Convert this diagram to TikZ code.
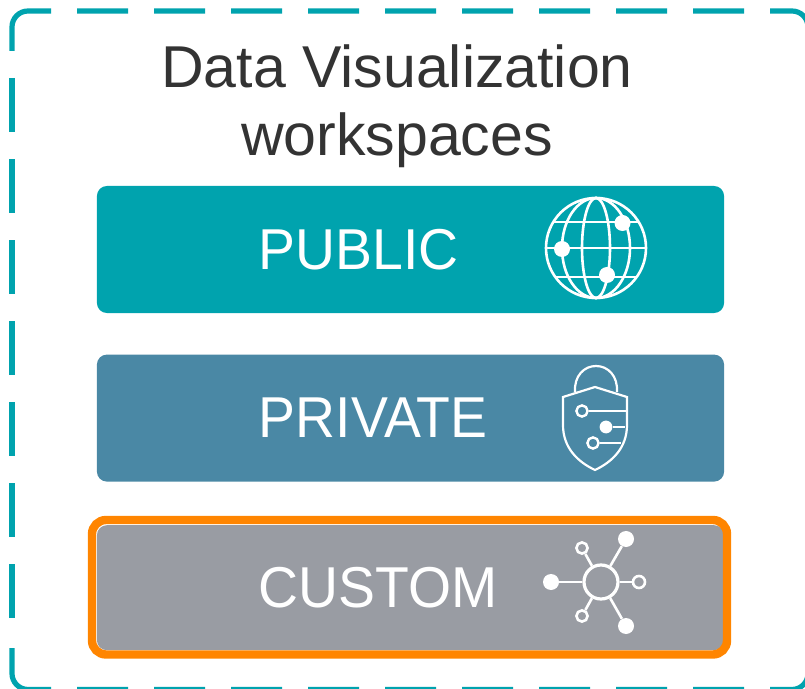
\documentclass[tikz,border=0pt]{standalone}
\usepackage{fontspec}
\setmainfont{Liberation Sans}
\newfontfamily\capfont[FakeStretch=0.96]{Liberation Sans}
\usetikzlibrary{positioning}
\definecolor{tealc}{HTML}{00A3AE}
\definecolor{bluec}{HTML}{4A88A5}
\definecolor{grayc}{HTML}{999CA3}
\definecolor{orangec}{HTML}{FF8500}
\definecolor{textc}{HTML}{333333}
\tikzset{
frame/.style = {draw = tealc, line width = 0.13cm, rounded corners = 0.4cm},
frame top/.style = {frame, dash pattern = on 1.275cm off 0.65cm},
frame side/.style = {frame, dash pattern = on 1.35cm off 0.675cm},
title/.style = {text = textc, align = center, font = \fontsize{42}{48.4}\selectfont,
   inner sep = 0pt},
space/.style = {rectangle, rounded corners = 0.25cm, minimum width = 15.675cm,
   minimum height = 3.175cm, inner sep = 0pt},
caption/.style = {text = white, inner sep = 0pt, font = \capfont\fontsize{41}{48}\selectfont},
highlight/.style = {draw = orangec, line width = 0.21cm, rounded corners = 0.35cm},
icon/.style = {draw = white, line width = 0.065cm},
thin icon/.style = {draw = white, line width = 0.055cm},
hollow/.style = {circle, draw = white, line width = 0.06cm, inner sep = 0pt,
   minimum size = 0.28cm},
solid dot/.style = {circle, fill = white, inner sep = 0pt, minimum size = 0.4cm}
}
\begin{document}
\begin{tikzpicture}[x = 0.025cm, y = -0.025cm]
\useasboundingbox (0,0) rectangle (805,689);

%% Dashed frame
\begin{scope}
\clip (0,0) rectangle (805,689);
\draw [frame] (51,11) -- (12,11) -- (12,51);
\draw [frame side] (12,78) -- (12,640);
\draw [frame] (12,648) -- (12,689.5) -- (51,689.5);
\draw [frame top] (77,11) -- (808,11) -- (808,60);
\draw [frame top] (77,689.5) -- (808,689.5) -- (808,640);
\end{scope}

%% Title
\node [title] (head) at (397,106) {Data Visualization\\workspaces};

%% Workspaces
\node [space, fill = tealc] (pub) at (410.5,249.5) {};
\node [space, fill = bluec] (priv) [below = 1.025cm of pub] {};
\node [space, fill = grayc, minimum height = 3.125cm] (cust) [below = 1.075cm of priv] {};
\draw [highlight] (92,520) rectangle (727,654.5);
\node [caption] (publab) [right = 4.05cm of pub.west] {PUBLIC};
\node [caption] (privlab) [right = 4.05cm of priv.west] {PRIVATE};
\node [caption] (custlab) [right = 4.05cm of cust.west] {CUSTOM};

%% Globe
\begin{scope}[shift = {(596,248)}]
\draw [icon] (0,0) circle (50);
\foreach \r in {14,34}
   \draw [icon] (0,0) ellipse ({\r} and 50);
\foreach \h in {-26,0,29}
   \draw [icon] ({-sqrt(2500 - \h*\h)},\h) -- ({sqrt(2500 - \h*\h)},\h);
\node [solid dot] (g1) at (26.5,-25) {};
\node [solid dot] (g2) at (-34,1) {};
\node [solid dot] (g3) at (11,27) {};
\end{scope}

%% Lock
\draw [thin icon] (575,392) .. controls (574,376) and (584,366) .. (596,366)
   .. controls (608,366) and (618,376) .. (617,392);
\draw [thin icon] (595,387) -- (627,397) -- (627,425) .. controls (627,448) and (612,462) .. (595,470)
   .. controls (578,462) and (563,448) .. (563,425) -- (563,397) -- cycle;
\node [hollow] (l1) at (582,411) {};
\node [solid dot, minimum size = 0.32cm] (l2) at (606,427) {};
\node [hollow] (l3) at (593,443) {};
\coordinate (e1) at (627,411);
\coordinate (e2) at (625,427);
\coordinate (e3) at (621,443);
\foreach \i in {1,2,3}
   \draw [thin icon] (l\i) -- (e\i);

%% Hub
\node [circle, draw = white, line width = 0.08cm, inner sep = 0pt, minimum size = 0.85cm] (hub) at (601,582) {};
\node [solid dot] (h1) at (551,582) {};
\node [solid dot] (h2) at (626,539) {};
\node [solid dot] (h3) at (626,626) {};
\node [hollow, line width = 0.065cm, minimum size = 0.3cm] (h4) at (639,582) {};
\node [hollow, line width = 0.065cm, minimum size = 0.28cm] (h5) at (582,548) {};
\node [hollow, line width = 0.065cm, minimum size = 0.28cm] (h6) at (582,616) {};
\foreach \i in {1,...,6}
   \draw [icon] (hub) -- (h\i);
\end{tikzpicture}
\end{document}
